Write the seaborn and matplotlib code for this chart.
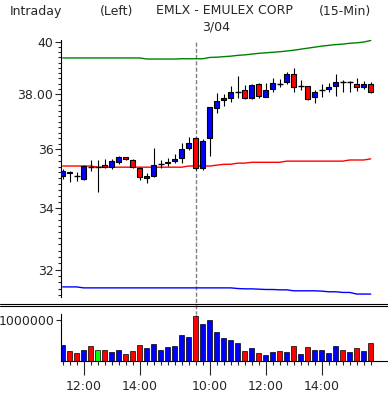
import numpy as np
import pandas as pd
import matplotlib
matplotlib.use("Agg")
import matplotlib.pyplot as plt
from matplotlib import ticker
from matplotlib.lines import Line2D
import seaborn as sns

# 15-minute bars, 3/03 11:15 .. 15:45 and 3/04 9:30 .. 15:45
opens = [35.08, 35.22, 35.08, 34.98, 35.40, 35.40, 35.46, 35.38, 35.57, 35.73,
         35.63, 35.36, 35.02, 35.09, 35.49, 35.52, 35.61, 35.69, 36.04, 36.42,
         35.34, 36.40, 37.50, 37.78, 37.85, 38.10, 38.15, 37.85, 38.38, 37.91,
         38.19, 38.39, 38.45, 38.75, 38.30, 38.30, 37.89, 38.17, 38.21, 38.32,
         38.47, 38.46, 38.38, 38.26, 38.38]
highs = [35.32, 35.25, 35.22, 35.45, 35.63, 35.63, 35.65, 35.65, 35.77, 35.75,
         35.67, 35.38, 35.17, 36.04, 35.63, 35.69, 35.83, 36.22, 36.45, 36.44,
         36.37, 37.52, 38.06, 38.00, 38.31, 38.70, 38.36, 38.39, 38.41, 38.41,
         38.60, 38.58, 38.84, 39.00, 38.54, 38.33, 38.16, 38.39, 38.41, 38.75,
         38.54, 38.50, 38.60, 38.49, 38.45]
lows = [34.97, 34.87, 34.91, 34.95, 35.26, 34.54, 35.35, 35.30, 35.48, 35.63,
        35.36, 34.93, 34.85, 35.05, 35.34, 35.43, 35.52, 35.52, 35.98, 35.28,
        35.28, 35.78, 37.32, 37.58, 37.73, 37.85, 37.81, 37.83, 37.88, 37.89,
        38.08, 38.28, 38.39, 38.10, 38.16, 37.80, 37.67, 37.91, 38.08, 37.95,
        38.10, 38.10, 38.13, 38.19, 38.06]
closes = [35.25, 35.17, 35.08, 35.42, 35.40, 35.40, 35.38, 35.60, 35.73, 35.65,
          35.38, 35.03, 35.09, 35.46, 35.49, 35.57, 35.67, 36.01, 36.22, 35.34,
          36.30, 37.52, 37.75, 37.85, 38.08, 38.10, 37.85, 38.34, 37.94, 38.15,
          38.41, 38.39, 38.78, 38.26, 38.30, 37.83, 38.08, 38.17, 38.28, 38.45,
          38.47, 38.46, 38.26, 38.38, 38.10]
volumes = [390000, 240000, 190000, 260000, 360000, 260000, 280000, 220000, 280000, 170000,
           240000, 380000, 320000, 410000, 280000, 330000, 360000, 630000, 580000, 1090000,
           890000, 990000, 700000, 550000, 500000, 430000, 240000, 310000, 190000, 140000,
           220000, 240000, 220000, 360000, 160000, 330000, 260000, 260000, 200000, 360000,
           260000, 220000, 310000, 240000, 440000]
vol_dir = ["up", "down", "down", "up", "down", "flat", "down", "up", "up", "down",
           "down", "down", "up", "up", "up", "up", "up", "up", "up", "down",
           "up", "up", "up", "up", "up", "up", "down", "up", "down", "up",
           "up", "down", "up", "down", "up", "down", "up", "up", "up", "up",
           "down", "up", "down", "up", "down"]
band_upper = [39.38] * 12 + [39.34] * 5 + [39.35] * 4 + [
    39.40, 39.41, 39.43, 39.45, 39.48, 39.50, 39.53, 39.56, 39.58, 39.60,
    39.62, 39.65, 39.68, 39.72, 39.76, 39.80, 39.84, 39.87, 39.90, 39.92,
    39.95, 39.97, 40.00, 40.06]
band_mid = [35.42] * 5 + [35.38] * 13 + [35.42] * 4 + [35.45, 35.48, 35.48, 35.52, 35.52] + \
    [35.55] * 5 + [35.59] * 9 + [35.63] * 3 + [35.67]
band_lower = [31.46] * 3 + [31.43] * 22 + [31.41, 31.40, 31.40, 31.39, 31.38, 31.38,
              31.37, 31.37, 31.34, 31.34, 31.34, 31.34, 31.33, 31.31, 31.31, 31.29,
              31.29, 31.24, 31.24, 31.24]
day_start = 19
time_ticks = [3, 11, 21, 29, 37]
time_labels = ["12:00", "14:00", "10:00", "12:00", "14:00"]
price_ticks = [32, 34, 36, 38, 40]
price_labels = ["32", "34", "36", "38.00", "40"]

sns.set_style("white")
plt.rcParams["font.family"] = ["DejaVu Sans"]
fs = 9

W, H = 388, 397
fig = plt.figure(figsize=(W / 100, H / 100), dpi=100)

def frac(x0, y0, x1, y1):
    # pixel box (top-left origin) -> figure fraction
    return [x0 / W, 1 - y1 / H, (x1 - x0) / W, (y1 - y0) / H]

ax = fig.add_axes(frac(61, 40, 388, 297))
axv = fig.add_axes(frac(61, 314, 388, 361))

df = pd.DataFrame({"i": np.arange(len(closes)), "open": opens, "high": highs,
                   "low": lows, "close": closes, "vol": volumes, "dir": vol_dir,
                   "up": band_upper, "mid": band_mid, "lo": band_lower})

# bands
sns.lineplot(data=df, x="i", y="up", ax=ax, color="#008000", lw=1, zorder=1)
sns.lineplot(data=df, x="i", y="mid", ax=ax, color="#ff0000", lw=1, zorder=1)
sns.lineplot(data=df, x="i", y="lo", ax=ax, color="#0000ff", lw=1, zorder=1)

# candles
ax.vlines(df["i"], df["low"], df["high"], color="black", lw=0.8, zorder=2)
body = df[df["open"] != df["close"]]
body_col = np.where(body["close"] > body["open"], "#0000ff", "#ff0000")
ax.bar(body["i"], (body["close"] - body["open"]).abs(),
       bottom=np.minimum(body["open"], body["close"]), width=0.72,
       color=body_col, edgecolor="black", linewidth=0.8, zorder=3)
doji = df[df["open"] == df["close"]]
ax.hlines(doji["close"], doji["i"] - 0.4, doji["i"] + 0.4, color="black", lw=1, zorder=3)

ax.axvline(day_start, ymin=-0.07, color="#808080", lw=1, ls=(0, (3, 1.5)),
           clip_on=False, zorder=0)

ax.set_yscale("log")
ax.set_ylim(31.15, 40.08)
ax.set_xlim(-0.243, 46.47)
ax.yaxis.set_major_locator(ticker.FixedLocator(price_ticks))
ax.yaxis.set_major_formatter(ticker.FixedFormatter(price_labels))
ax.yaxis.set_minor_locator(ticker.FixedLocator(np.arange(31.2, 40.05, 0.2)))
ax.yaxis.set_minor_formatter(ticker.NullFormatter())
ax.tick_params(axis="y", which="major", direction="out", length=4.5, width=0.8,
               labelsize=fs, pad=1, left=True)
ax.tick_params(axis="y", which="minor", direction="out", length=2.2, width=0.8, left=True)
ax.set_xticks([])
ax.set_xlabel("")
ax.set_ylabel("")
for s in ["top", "right", "bottom"]:
    ax.spines[s].set_visible(False)
ax.spines["left"].set_color("black")
ax.spines["left"].set_linewidth(0.8)

# volume
pal = {"up": "#0000ff", "down": "#ff0000", "flat": "#00ff00"}
sns.barplot(data=df, x="i", y="vol", hue="dir", palette=pal, dodge=False,
            saturation=1, legend=False, width=0.72, edgecolor="black", linewidth=0.5,
            errorbar=None, ax=axv, zorder=2)
axv.axvline(day_start, color="#808080", lw=1, ls=(0, (3, 1.5)), zorder=0)
axv.set_xlim(-0.243, 46.47)
axv.set_ylim(0, 1146000)
axv.set_yticks([1000000])
axv.set_yticklabels(["1000000"])
axv.xaxis.set_major_locator(ticker.FixedLocator(time_ticks))
axv.xaxis.set_major_formatter(ticker.FixedFormatter(time_labels))
axv.xaxis.set_minor_locator(ticker.FixedLocator(df["i"]))
axv.tick_params(axis="x", which="major", direction="out", length=10, width=0.8,
                labelsize=fs, pad=4, bottom=True)
axv.tick_params(axis="x", which="minor", direction="out", length=3, width=0.8, bottom=True)
axv.tick_params(axis="y", which="major", direction="out", length=3.5, width=0.8,
                labelsize=fs, pad=1, left=True)
axv.set_xlabel("")
axv.set_ylabel("")
for s in ["top", "right"]:
    axv.spines[s].set_visible(False)
for s in ["left", "bottom"]:
    axv.spines[s].set_color("black")
    axv.spines[s].set_linewidth(0.8)

# panel separator
for yy in (304, 306):
    fig.add_artist(Line2D([0, 1], [1 - yy / H] * 2, color="black", lw=0.8))

# header
for txt, x0 in [("Intraday", 10), ("(Left)", 100), ("EMLX - EMULEX CORP", 156), ("(15-Min)", 319)]:
    fig.text(x0 / W, 1 - 11 / H, txt, fontsize=fs, ha="left", va="center")
ax.annotate("3/04", xy=(day_start, 1), xycoords=("data", "axes fraction"),
            xytext=(4.5, 9.5), textcoords="offset points", fontsize=fs,
            ha="left", va="center", annotation_clip=False)

fig.savefig("out.png", dpi=100)
